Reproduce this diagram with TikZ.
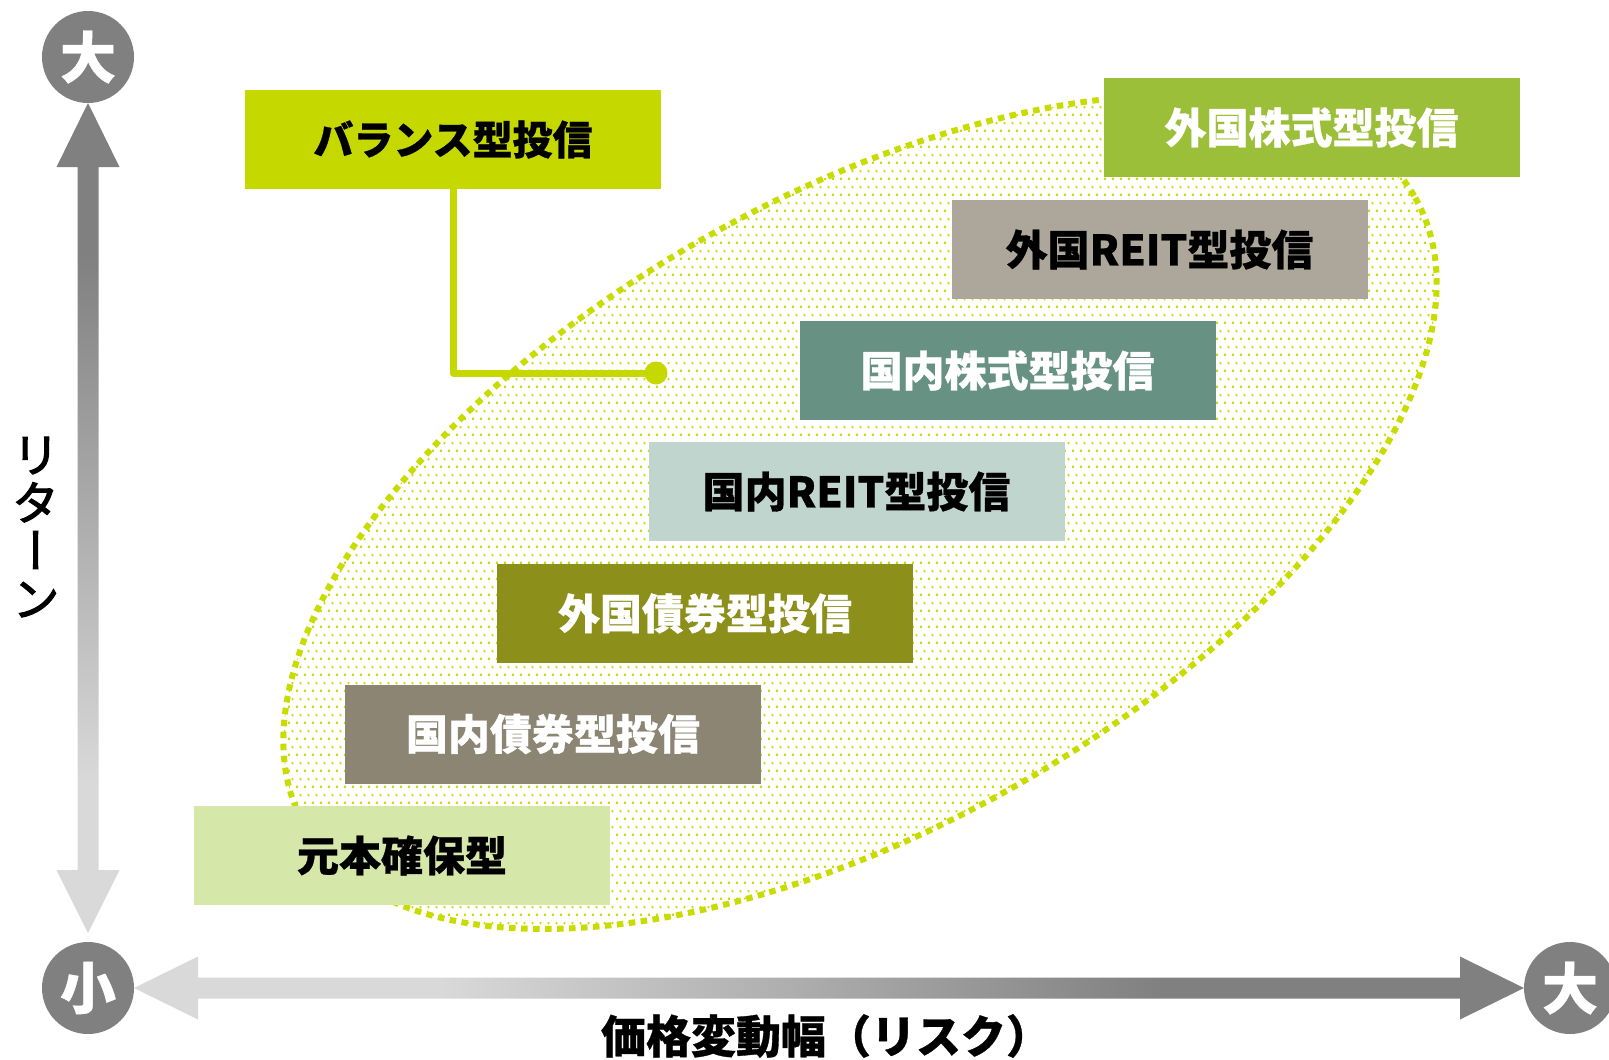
\documentclass[tikz,border=0pt]{standalone}
\usepackage{fontspec}
\setmainfont{Noto Sans CJK JP}[BoldFeatures={FakeBold=0.7}]
\newfontfamily\jpv{Noto Sans CJK JP}[RawFeature=+vert, FakeBold=2.2]
\usetikzlibrary{patterns.meta,calc}
\definecolor{axd}{HTML}{808080}
\definecolor{axl}{HTML}{D9D9D9}
\definecolor{balc}{HTML}{C5D800}
\definecolor{ellc}{HTML}{C8DC00}
\definecolor{cfstk}{HTML}{9BBF38}
\definecolor{cfreit}{HTML}{ADA79B}
\definecolor{cdstk}{HTML}{679283}
\definecolor{cdreit}{HTML}{C0D5CE}
\definecolor{cfbond}{HTML}{8C8F1A}
\definecolor{cdbond}{HTML}{8C8573}
\definecolor{cgen}{HTML}{D5E8AA}
\pgfdeclarehorizontalshading{hax}{100bp}{color(0bp)=(axl); color(36bp)=(axl); color(62bp)=(axd); color(100bp)=(axd)}
\pgfdeclareverticalshading{vax}{100bp}{color(0bp)=(axl); color(34bp)=(axl); color(66bp)=(axd); color(100bp)=(axd)}
\tikzdeclarepattern{
  name=sdots,
  type=uncolored,
  bounding box={(0pt,0pt) and (8pt,16pt)},
  tile size={(8pt,16pt)},
  code={\fill (0pt,0pt) rectangle (2pt,2.6pt); \fill (4pt,8pt) rectangle (6pt,10.6pt);}
}
\begin{document}
\begin{tikzpicture}[x=1pt,y=-1pt,
  box/.style={rectangle, minimum width=416pt, minimum height=99pt, inner sep=0pt,
    font=\fontsize{42pt}{50pt}\selectfont\bfseries},
  axcirc/.style={circle, fill=axd, minimum size=92pt, inner sep=0pt, text=white,
    font=\fontsize{56pt}{60pt}\selectfont\bfseries},
  conn/.style={draw=balc, line width=7pt, line join=round},
  ellline/.style={draw=ellc, line width=6pt, dash pattern=on 6.5pt off 5.5pt},
  axlabel/.style={font=\fontsize{45pt}{50pt}\selectfont\bfseries},
]
\useasboundingbox (0,0) rectangle (1609,1060);
\fill[white] (0,0) rectangle (1609,1060);

% cloud of products
\draw[ellline, pattern=sdots, pattern color=ellc, rotate around={29.5:(860,512)}]
  (860,512) ellipse [x radius=638, y radius=315];

% axis circles
\node[axcirc] (ytop) at (88,57) {大};
\node[axcirc] (orig) at (88,988) {小};
\node[axcirc] (xend) at (1570,988) {大};

% vertical axis arrow
\shade[shading=vax] (88,103) -- (119.5,167) -- (98.5,167) -- (98.5,870) -- (119.5,870)
  -- (88,933) -- (56.5,870) -- (77.5,870) -- (77.5,167) -- (56.5,167) -- cycle;
% horizontal axis arrow
\shade[shading=hax] (134,988) -- (198,956.5) -- (198,977.5) -- (1460,977.5) -- (1460,956.5)
  -- (1524,988) -- (1460,1019.5) -- (1460,998.5) -- (198,998.5) -- (198,1019.5) -- cycle;

% axis labels
\node[align=center, font=\fontsize{48pt}{48pt}\selectfont\jpv] (ylab) at (36,527) {リ\\タ\\ー\\ン};
\node[axlabel] (xlab) at (826,1036) {価格変動幅（リスク）};

% boxes
\node[box, fill=cfstk, text=white] (fstk) at (1311.5,127.5) {外国株式型投信};
\node[box, fill=cfreit, text=black] (freit) at (1159.5,249.5) {外国REIT型投信};
\node[box, fill=cdstk, text=white] (dstk) at (1007.5,370.5) {国内株式型投信};
\node[box, fill=cdreit, text=black] (dreit) at (856.5,491.5) {国内REIT型投信};
\node[box, fill=cfbond, text=white] (fbond) at (705,613.5) {外国債券型投信};
\node[box, fill=cdbond, text=white] (dbond) at (553,734) {国内債券型投信};
\node[box, fill=cgen, text=black] (gen) at (402,855.5) {元本確保型};
\node[box, fill=balc, text=black, font=\fontsize{40pt}{50pt}\selectfont\bfseries] (bal) at (453,139.5) {バランス型投信};

% balance connector
\node[circle, fill=balc, minimum size=23pt, inner sep=0pt] (bdot) at (656,373) {};
\draw[conn] (bal.south) |- (bdot.center);
\end{tikzpicture}
\end{document}
